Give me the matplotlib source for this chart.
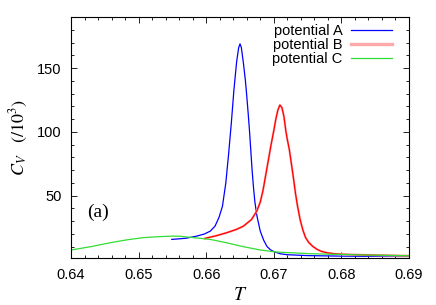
import matplotlib
matplotlib.use("Agg")
import matplotlib.pyplot as plt
from matplotlib.ticker import MultipleLocator

# Data (T, C_V / 10^3)
tA = [0.6549, 0.6570, 0.6586, 0.6597, 0.6606, 0.6613, 0.6619, 0.6624, 0.6629,
      0.6633, 0.6637, 0.6641, 0.6645, 0.6648, 0.6650, 0.6652, 0.6655, 0.6658,
      0.6660, 0.6662, 0.6664, 0.6666, 0.6668, 0.6670, 0.6672, 0.6675, 0.6680,
      0.6685, 0.6690, 0.6695, 0.6700, 0.6710, 0.6720, 0.6750, 0.6800, 0.6850,
      0.6900]
cA = [15.6, 16.5, 18.2, 19.8, 22.1, 26.0, 33.0, 41.6, 60.0,
      82.0, 106.0, 133.0, 155.0, 166.0, 169.0, 166.0, 154.0, 140.0,
      128.0, 115.0, 101.0, 85.0, 69.0, 56.0, 45.0, 34.0, 22.0,
      15.0, 10.0, 7.5, 6.0, 4.3, 3.6, 2.9, 2.5, 2.3,
      2.2]

tB = [0.6598, 0.6615, 0.6630, 0.6645, 0.6655, 0.6667, 0.6675, 0.6680, 0.6684,
      0.6688, 0.6692, 0.6696, 0.6700, 0.6703, 0.6706, 0.6709, 0.6712, 0.6715,
      0.6718, 0.6720, 0.6723, 0.6726, 0.6729, 0.6732, 0.6735, 0.6739, 0.6743,
      0.6747, 0.6752, 0.6758, 0.6764, 0.6770, 0.6778, 0.6790, 0.6803, 0.6850,
      0.6900]
cB = [16.4, 18.5, 20.8, 23.5, 26.0, 31.2, 38.0, 45.0, 54.0,
      66.0, 78.0, 90.0, 101.0, 110.0, 117.0, 121.0, 119.0, 112.0,
      100.0, 94.0, 86.0, 75.0, 64.0, 52.0, 42.0, 31.0, 23.0,
      17.0, 13.0, 10.0, 7.8, 6.3, 5.2, 4.3, 3.9, 3.2,
      2.8]

tC = [0.6400, 0.6430, 0.6458, 0.6483, 0.6507, 0.6532, 0.6550, 0.6561, 0.6581,
      0.6606, 0.6630, 0.6655, 0.6680, 0.6704, 0.6754, 0.6800, 0.6850, 0.6900]
cC = [7.3, 10.0, 13.0, 15.3, 17.0, 17.8, 18.2, 18.1, 17.0,
      15.6, 13.0, 9.9, 7.3, 5.7, 4.4, 3.8, 3.2, 2.8]

xticks = [0.64, 0.65, 0.66, 0.67, 0.68, 0.69]
yticks = [50, 100, 150]

plt.rcParams["font.family"] = ["Liberation Sans", "DejaVu Sans"]
plt.rcParams["mathtext.fontset"] = "stix"

fig = plt.figure(figsize=(4.36, 3.05), dpi=100)
ax = fig.add_axes([0.163, 0.154, 0.775, 0.79])

ax.plot(tA, cA, color="#0000ff", lw=0.9, label="potential A")
ax.plot(tB, cB, color="#ffaaaa", lw=1.6, label="potential B")
ax.plot(tB, cB, color="#ff0000", lw=0.9)
ax.plot(tC, cC, color="#33dd33", lw=0.9, label="potential C")

ax.set_xlim(0.64, 0.69)
ax.set_ylim(1, 190)
ax.set_xticks(xticks)
ax.set_xticklabels(["%.2f" % t for t in xticks])
ax.set_yticks(yticks)
ax.xaxis.set_minor_locator(MultipleLocator(0.002))
ax.yaxis.set_minor_locator(MultipleLocator(10))
ax.tick_params(which="both", direction="in", top=True, right=True,
               labelsize=10.5, pad=7)
ax.tick_params(which="major", length=4, width=0.6)
ax.tick_params(which="minor", length=2, width=0.6)
for s in ax.spines.values():
    s.set_linewidth(0.8)

ax.set_xlabel(r"$T$", fontsize=14, labelpad=4)
ax.set_ylabel(r"$C_V\ \ \ (/10^3)$", fontsize=13, labelpad=5)
ax.text(0.08, 0.19, "(a)", transform=ax.transAxes, ha="center", va="center",
        fontsize=14, family="Liberation Serif")

leg = ax.legend(loc="upper right", frameon=False, markerfirst=False,
                fontsize=10.5, handlelength=2.8, handletextpad=0.6,
                labelspacing=0.0, borderaxespad=0.3,
                bbox_to_anchor=(0.98, 1.015))
leg.get_lines()[1].set_linewidth(2.4)

fig.savefig("out.png", dpi=100)
